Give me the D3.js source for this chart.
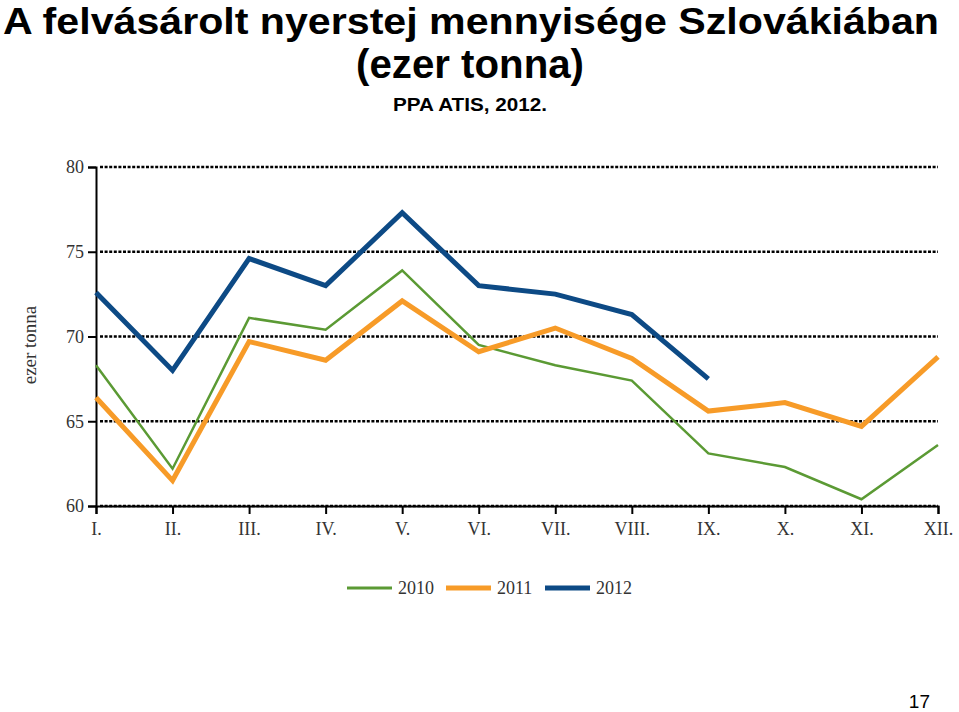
<!DOCTYPE html>
<html><head><meta charset="utf-8">
<script src="https://cdn.jsdelivr.net/npm/d3@7"></script>
<style>body{margin:0;background:#fff;} svg{display:block;}</style>
</head><body>
<script>
const months = ["I.","II.","III.","IV.","V.","VI.","VII.","VIII.","IX.","X.","XI.","XII."];
const v2010 = [68.3,62.2,71.1,70.4,73.9,69.5,68.3,67.4,63.1,62.3,60.4,63.6];
const v2011 = [66.4,61.5,69.7,68.6,72.1,69.1,70.5,68.7,65.6,66.1,64.7,68.8];
const v2012 = [72.6,68.0,74.6,73.0,77.3,73.0,72.5,71.3,67.5];
const yTicks = [60,65,70,75,80];
const seriesNames = ["2010","2011","2012"];
const colors = ["#5b9a34","#f79b28","#0d4a85"];
const widths = [2.5,5,5];

const W=959,H=712;
const svg=d3.select("body").append("svg").attr("width",W).attr("height",H);

// Titles
svg.append("text").attr("x",471).attr("y",34).attr("text-anchor","middle")
  .attr("font-family","Liberation Sans, Arial, sans-serif").attr("font-weight","bold")
  .attr("font-size",37).attr("textLength",936).attr("lengthAdjust","spacingAndGlyphs")
  .text("A felvásárolt nyerstej mennyisége Szlovákiában");
svg.append("text").attr("x",470).attr("y",78).attr("text-anchor","middle")
  .attr("font-family","Liberation Sans, Arial, sans-serif").attr("font-weight","bold")
  .attr("font-size",40).attr("textLength",228).attr("lengthAdjust","spacingAndGlyphs")
  .text("(ezer tonna)");
svg.append("text").attr("x",470).attr("y",111).attr("text-anchor","middle")
  .attr("font-family","Liberation Sans, Arial, sans-serif").attr("font-weight","bold")
  .attr("font-size",19).attr("textLength",154).attr("lengthAdjust","spacingAndGlyphs")
  .text("PPA ATIS, 2012.");

const x=d3.scalePoint().domain(months).range([96,938]);
const y=d3.scaleLinear().domain([60,80]).range([506,167]);

// gridlines
svg.append("g").selectAll("line").data(yTicks).join("line")
  .attr("x1",100).attr("x2",938).attr("y1",d=>y(d)).attr("y2",d=>y(d))
  .attr("stroke","#000").attr("stroke-width",2.5).attr("stroke-dasharray","3,1.6");

// y axis
const ya=svg.append("g").attr("transform","translate(96,0)")
  .call(d3.axisLeft(y).tickValues(yTicks).tickSize(8).tickPadding(4));
ya.select(".domain").attr("stroke","#000").attr("stroke-width",2);
ya.selectAll(".tick line").attr("stroke","#000").attr("stroke-width",2);
ya.selectAll(".tick text").attr("font-family","Liberation Serif, Times New Roman, serif").attr("font-size",18).attr("fill","#333");

// x axis
const xa=svg.append("g").attr("transform","translate(0,506)")
  .call(d3.axisBottom(x).tickSize(8).tickPadding(8));
xa.select(".domain").attr("stroke","#000").attr("stroke-width",2);
xa.selectAll(".tick line").attr("stroke","#000").attr("stroke-width",2);
xa.selectAll(".tick text").attr("font-family","Liberation Serif, Times New Roman, serif").attr("font-size",18).attr("fill","#333");

svg.append("text").attr("transform","translate(36,345) rotate(-90)").attr("text-anchor","middle")
  .attr("font-family","Liberation Serif, Times New Roman, serif").attr("font-size",19).attr("fill","#333")
  .text("ezer tonna");

const line=d3.line().x((d,i)=>x(months[i])).y(d=>y(d));
[v2010,v2011,v2012].forEach((s,k)=>{
  svg.append("path").attr("d",line(s)).attr("fill","none")
    .attr("stroke",colors[k]).attr("stroke-width",widths[k]).attr("stroke-linejoin","miter");
});

// legend
const lx=[347,446,545];
seriesNames.forEach((n,k)=>{
  svg.append("line").attr("x1",lx[k]).attr("x2",lx[k]+45).attr("y1",588).attr("y2",588)
    .attr("stroke",colors[k]).attr("stroke-width",k===0?3:5);
  svg.append("text").attr("x",lx[k]+51).attr("y",594)
    .attr("font-family","Liberation Serif, Times New Roman, serif").attr("font-size",18).attr("fill","#333").text(n);
});

svg.append("text").attr("x",930).attr("y",708).attr("text-anchor","end")
  .attr("font-family","Liberation Sans, Arial, sans-serif").attr("font-size",19).text("17");
</script>
</body></html>
